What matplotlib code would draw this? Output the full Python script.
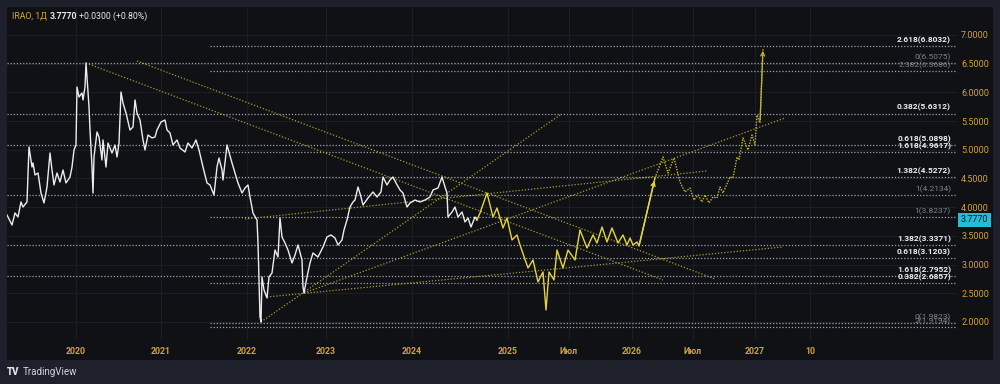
import numpy as np
import matplotlib
matplotlib.use("Agg")
import matplotlib.pyplot as plt
from matplotlib.patches import Rectangle

plt.rcParams['font.family'] = ['Roboto', 'DejaVu Sans']

# ---- data (x = bar position on the chart's time scale, y = price) ----
price_x = [0, 5, 8, 11, 14, 16, 20, 22, 25, 26, 28, 31, 34, 37, 40, 43, 45, 47, 50, 53, 56, 59, 63, 65, 67, 69,
           70, 72, 75, 76, 78, 79, 80, 82, 83, 85, 86, 87, 90, 92, 95, 96, 99, 101, 105, 108, 110, 112,
           114, 116, 119, 123, 126, 128, 130, 133, 136, 138, 141, 145, 148, 150, 154, 158, 160, 163, 166,
           170, 173, 178, 181, 185, 189, 192, 196, 200, 203, 207, 210, 212, 215, 216, 220, 225, 228, 231,
           235, 238, 241, 243, 246, 250, 251, 252, 253, 254, 255, 257, 260, 262, 265, 268, 271, 273, 275,
           278, 281, 285, 288, 291, 295, 296, 297, 300, 303, 306, 311, 316, 320, 324, 328, 331, 335, 337,
           340, 343, 346, 348, 351, 354, 356, 361, 366, 370, 374, 376, 380, 383, 386, 389, 393, 396, 400,
           403, 408, 413, 418, 423, 426, 431, 435, 438, 440, 441, 445, 448, 451, 455, 458, 461, 464, 468, 470]
price_y = [3.864, 3.690, 3.899, 3.829, 4.091, 4.003, 4.091, 5.049, 4.700, 4.770, 4.561, 4.596, 4.247, 4.073,
           4.352, 4.944, 4.648, 4.387, 4.596, 4.439, 4.648, 4.422, 4.526, 4.700, 4.997, 5.084,
           6.094, 5.920, 5.990, 5.868, 6.094, 6.512, 6.268, 5.746, 5.345, 4.700, 4.247, 4.875, 5.310, 5.223,
           4.822, 5.171, 4.700, 5.118, 4.944, 5.084, 4.875, 5.118,
           6.007, 5.815, 5.641, 5.345, 5.397, 5.868, 5.641, 5.519, 5.171, 4.997, 5.258, 5.206, 5.223, 5.345,
           5.484, 5.519, 5.345, 5.293, 5.084, 5.171, 5.031, 4.962, 5.118, 5.031, 5.171, 4.997, 4.700, 4.422,
           4.387, 4.213, 4.700, 4.857, 4.648, 4.474, 5.084, 4.770, 4.596, 4.422,
           4.247, 4.334, 4.387, 4.178, 3.899, 3.777, 3.376, 2.732, 2.087, 2.000, 2.784, 2.557, 2.418, 2.784,
           2.854, 3.254, 3.132, 3.812, 3.481, 3.376, 3.254, 3.028, 3.167, 3.341, 3.080, 2.610, 2.505, 2.784,
           3.028, 3.202, 3.132, 3.307, 3.481, 3.516, 3.463, 3.341, 3.429, 3.603,
           3.777, 4.003, 4.091, 4.125, 4.352, 4.178, 4.038, 4.160, 4.265, 4.178, 4.265, 4.526, 4.387, 4.474,
           4.526, 4.422, 4.300, 4.247, 4.003, 4.073, 4.125, 4.091, 4.125, 4.178, 4.300, 4.334, 4.526, 4.352,
           4.247, 3.829, 3.916, 4.003, 3.829, 3.916, 3.742, 3.812, 3.655, 3.829, 3.777]

# projected path (solid yellow)
proj_x = [470, 473, 480, 486, 490, 496, 500, 505, 510, 513, 521, 526, 531, 536, 539, 542, 547, 550, 556,
          561, 568, 573, 580, 586, 590, 595, 600, 605, 611, 616, 620, 623, 626, 630, 632, 648]
proj_y = [3.777, 3.899, 4.247, 3.829, 3.986, 3.638, 3.812, 3.429, 3.516, 3.341, 2.941, 3.080, 2.697, 2.871,
          2.209, 2.871, 2.732, 3.254, 2.941, 3.254, 3.080, 3.603, 3.289, 3.516, 3.376, 3.655, 3.394, 3.638,
          3.376, 3.516, 3.341, 3.463, 3.341, 3.394, 3.324, 4.509]

# projected path (dotted yellow)
fut_x = [648, 656, 661, 667, 673, 678, 683, 687, 691, 695, 698, 702, 706, 710, 713, 716, 723, 726, 730,
         732, 736, 741, 745, 748, 750, 753, 756]
fut_y = [4.509, 4.875, 4.596, 4.857, 4.439, 4.265, 4.334, 4.125, 4.213, 4.091, 4.213, 4.073, 4.178, 4.160,
         4.352, 4.247, 4.526, 4.509, 4.875, 4.822, 5.206, 4.997, 5.258, 5.084, 5.606, 5.467, 6.774]

# trend lines: (x0, y0, x1, y1)
trend_lines = [
    (79, 6.512, 656, 2.732),
    (130, 6.547, 708, 2.749),
    (254, 2.000, 553, 5.606),
    (260, 2.436, 776, 3.307),
    (297, 2.505, 778, 5.554),
    (238, 3.794, 700, 4.631),
]

# fibonacci levels
fib_price = [6.5075, 5.6312, 5.0898, 4.2134, 3.3371, 2.7952,
             6.8032, 6.3686, 4.9617, 4.5272, 3.8237, 3.1203, 2.6857, 1.9823, 1.9194]
fib_start = [0, 0, 0, 0, 0, 0,
             203, 203, 203, 203, 203, 203, 203, 203, 203]
fib_label = ['0(6.5075)', '0.382(5.6312)', '0.618(5.0898)', '1(4.2134)', '1.382(3.3371)', '1.618(2.7952)',
             '2.618(6.8032)', '2.382(6.3686)', '1.618(4.9617)', '1.382(4.5272)', '1(3.8237)',
             '0.618(3.1203)', '0.382(2.6857)', '0(1.9823)', '2(1.9194)']
fib_bright = [False, True, True, False, True, True,
              True, False, True, True, False, True, True, False, False]

x_ticks = [69, 154, 240, 319, 405, 501, 562, 625, 686, 748, 803]
x_labels = ['2020', '2021', '2022', '2023', '2024', '2025', 'Июл', '2026', 'Июл', '2027', '10']
y_ticks = [2.0, 2.5, 3.0, 3.5, 4.0, 4.5, 5.0, 5.5, 6.0, 6.5, 7.0]
last_price = 3.777

# ---- colours ----
outer_bg = '#1e212b'
pane_bg = '#0f1115'
grid_c = '#1b1e25'
gold = '#d4a23a'
yellow = '#e6d43c'
dot_yellow = '#a99c2c'
fib_c = '#9fa2ab'

fig = plt.figure(figsize=(10, 3.84), dpi=100, facecolor=outer_bg)
fig.patches.append(Rectangle((0.007, 0.0625), 0.986, 0.919, transform=fig.transFigure,
                             facecolor=pane_bg, edgecolor='none', zorder=-1))
ax = fig.add_axes([0.007, 0.1146, 0.95, 0.8672])
ax.set_zorder(2)
ax.set_facecolor(pane_bg)
ax.set_xlim(0, 950)
ax.set_ylim(1.686, 7.488)
for s in ax.spines.values():
    s.set_visible(False)

ax.set_xticks(x_ticks)
ax.set_xticklabels(x_labels)
ax.set_yticks(y_ticks)
ax.set_yticklabels(['%.4f' % v for v in y_ticks])
ax.yaxis.tick_right()
ax.tick_params(axis='x', length=0, colors=gold, labelsize=6.3, pad=5)
ax.tick_params(axis='y', length=0, colors=gold, labelsize=6.5, pad=3)
for t in ax.get_xticklabels():
    t.set_fontweight('bold')
ax.grid(True, color=grid_c, lw=0.8)
ax.set_axisbelow(True)

# fib levels
for p, x0, lab, br in zip(fib_price, fib_start, fib_label, fib_bright):
    ax.plot([x0, 950], [p, p], color=fib_c, lw=0.9, ls=(0, (1, 1.5)), zorder=2)
    ax.annotate(lab, xy=(944, p), xytext=(0, 1.5), textcoords='offset points', ha='right', va='bottom',
                fontsize=6, color='#eceef2' if br else '#80838c',
                fontweight='bold' if br else 'normal', zorder=5)

# trend lines
for x0, y0, x1, y1 in trend_lines:
    ax.plot([x0, x1], [y0, y1], color=dot_yellow, lw=0.9, ls=(0, (1, 1.5)), zorder=3)

# price
ax.plot(price_x, price_y, color='#ececec', lw=1.0, zorder=4)

# projection
ax.plot(proj_x, proj_y, color=yellow, lw=1.0, zorder=4)
ax.annotate('', xy=(proj_x[-1], proj_y[-1]), xytext=(proj_x[-2], proj_y[-2]),
            arrowprops=dict(arrowstyle='->', color=yellow, lw=1.0, mutation_scale=7), zorder=4)
ax.plot(fut_x, fut_y, color='#c2b434', lw=1.0, ls=(0, (1, 1)), zorder=4)
ax.annotate('', xy=(fut_x[-1], fut_y[-1]), xytext=(fut_x[-2], fut_y[-2]),
            arrowprops=dict(arrowstyle='->', color='#c2b434', lw=0.9, mutation_scale=7), zorder=4)

# last price tag
ax.annotate('%.4f' % last_price, xy=(1, last_price), xycoords=('axes fraction', 'data'),
            xytext=(2.5, 0), textcoords='offset points', ha='left', va='center', fontsize=6.5,
            color='#0f1115', bbox=dict(boxstyle='square,pad=0.3', fc='#22bcd6', ec='none'),
            annotation_clip=False, zorder=6)

# header
fig.text(0.012, 0.958, 'IRAO, 1Д', color=gold, fontsize=6.3, va='center')
fig.text(0.050, 0.958, '3.7770', color='#e6e8ec', fontsize=6.3, va='center', fontweight='bold')
fig.text(0.079, 0.958, '+0.0300 (+0.80%)', color='#e6e8ec', fontsize=6.3, va='center')

# footer logo
fig.text(0.007, 0.031, 'TV', color='#e0e3eb', fontsize=7, va='center', fontweight='heavy')
fig.text(0.023, 0.031, 'TradingView', color='#d1d4dc', fontsize=7, va='center')

fig.savefig('out.png', dpi=100, facecolor=outer_bg)
